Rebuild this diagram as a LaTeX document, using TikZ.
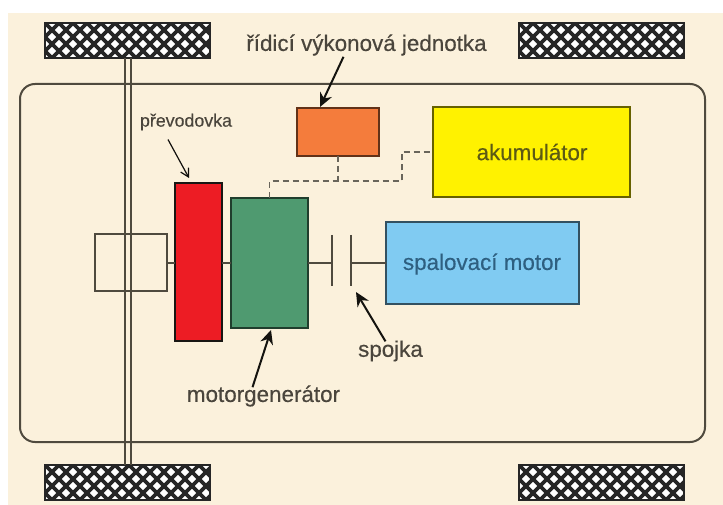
\documentclass[tikz,border=0pt]{standalone}
\usepackage{fontspec}
\setmainfont{Liberation Sans}[FakeBold=0.35]
\usetikzlibrary{arrows.meta}
\definecolor{cream}{HTML}{FBF1DC}
\definecolor{ink}{HTML}{4F4A3E}
\definecolor{txt}{HTML}{4A453C}
\definecolor{cred}{HTML}{ED1C24}
\definecolor{cgreen}{HTML}{4F9A70}
\definecolor{corange}{HTML}{F47C3C}
\definecolor{cyellow}{HTML}{FFF200}
\definecolor{cblue}{HTML}{80CBF2}
\definecolor{tblue}{HTML}{2E5F80}
\definecolor{tolive}{HTML}{5C5A14}
\tikzset{
  box/.style={draw=#1, line width=2pt, inner sep=0pt, outer sep=0pt},
  shaft/.style={draw=ink, line width=1.6pt},
  link/.style={draw=ink!85, line width=1.5pt, dash pattern=on 6pt off 4pt},
  pointer/.style={draw=black!75!ink, line width=2pt, -{Stealth[length=14pt,width=13pt]}},
  thinpointer/.style={draw=black!80!ink, line width=1.2pt, -{Straight Barb[length=8pt,width=9pt]}},
  lbl/.style={text=txt, inner sep=0pt, font=\fontsize{22.4pt}{24pt}\selectfont},
  tire/.style={draw=black!85, line width=2pt, fill=white, inner sep=0pt, outer sep=0pt,
    minimum width=165pt, minimum height=35pt,
    path picture={
      \foreach \k in {-3,...,15}{
        \draw[black!85, line width=3.6pt]
          ([xshift=\k*14pt]path picture bounding box.north west) -- ++(40,40);
        \draw[black!85, line width=3.6pt]
          ([xshift=\k*14pt]path picture bounding box.north west) -- ++(-40,40);
      }}},
}
\begin{document}
\begin{tikzpicture}[x=1pt,y=-1pt]
\useasboundingbox (0,0) rectangle (723,505);
\fill[cream] (8,13) rectangle (723,505);
% body
\node[box=ink, minimum width=685pt, minimum height=358pt, rounded corners=15pt] (car) at (362.5,263) {};
% wheels
\node[tire] (wtl) at (127.5,40.5) {};
\node[tire] (wtr) at (601.5,40.5) {};
\node[tire] (wbl) at (127.5,482.5) {};
\node[tire] (wbr) at (601.5,482.5) {};
% axle
\draw[shaft] ([xshift=-2.5pt]wtl.south) -- ([xshift=-2.5pt]wbl.north);
\draw[shaft] ([xshift=3.5pt]wtl.south) -- ([xshift=3.5pt]wbl.north);
% boxes
\node[box=ink, minimum width=72pt, minimum height=57pt] (diff) at (131,262.5) {};
\node[box=black!70!ink, fill=cred, minimum width=47pt, minimum height=158pt] (gear) at (198.5,262) {};
\node[box=black!60!cgreen, fill=cgreen, minimum width=77pt, minimum height=130pt] (mg) at (269.5,263) {};
\node[box=black!60!corange, fill=corange, minimum width=82pt, minimum height=48pt] (ctrl) at (338,132) {};
\node[box=black!60!cyellow, fill=cyellow, minimum width=197pt, minimum height=90pt] (bat) at (531.5,152) {};
\node[box=black!60!cblue, fill=cblue, minimum width=193pt, minimum height=82pt] (eng) at (482.5,263) {};
% clutch
\coordinate (p1t) at (332,235);
\coordinate (p1b) at (332,286);
\coordinate (p2t) at (351,235);
\coordinate (p2b) at (351,286);
\coordinate (p1) at (332,263);
\coordinate (p2) at (351,263);
\draw[shaft] (p1t) -- (p1b);
\draw[shaft] (p2t) -- (p2b);
\draw[shaft] (mg.west -| diff.east) -- (mg.west -| gear.west);
\draw[shaft] (mg.west -| gear.east) -- (mg.west);
\draw[shaft] (mg.east) -- (p1);
\draw[shaft] (p2) -- (eng.west);
% dashed links
\coordinate (jc) at (402,181);
\draw[link] (mg.north) |- (jc) |- (bat.west);
\draw[link] (ctrl.south) -- (ctrl.south |- jc);
% labels
\node[lbl, text=tolive] (tbat) at (532,152) {akumulátor};
\node[lbl, text=tblue] (teng) at (482,264) {spalovací motor};
\node[lbl] (tctrl) at (366.5,45) {řídicí výkonová jednotka};
\node[lbl, font=\fontsize{17.8pt}{20pt}\selectfont] (tgear) at (186,122) {převodovka};
\node[lbl] (tmg) at (263.5,396) {motorgenerátor};
\node[lbl] (tcl) at (390.5,351) {spojka};
% pointers
\coordinate (actrl) at (320,107);
\coordinate (agear) at (189,178);
\coordinate (amg) at (271,330);
\coordinate (acl) at (356,292);
\draw[pointer] ([xshift=-23pt,yshift=-1pt]tctrl.south) -- (actrl);
\draw[thinpointer] ([xshift=-18pt,yshift=-9pt]tgear.south) -- (agear);
\draw[pointer] ([xshift=-11pt,yshift=-2pt]tmg.north) -- (amg);
\draw[pointer] ([xshift=-5pt,yshift=-1pt]tcl.north) -- (acl);
\end{tikzpicture}
\end{document}
